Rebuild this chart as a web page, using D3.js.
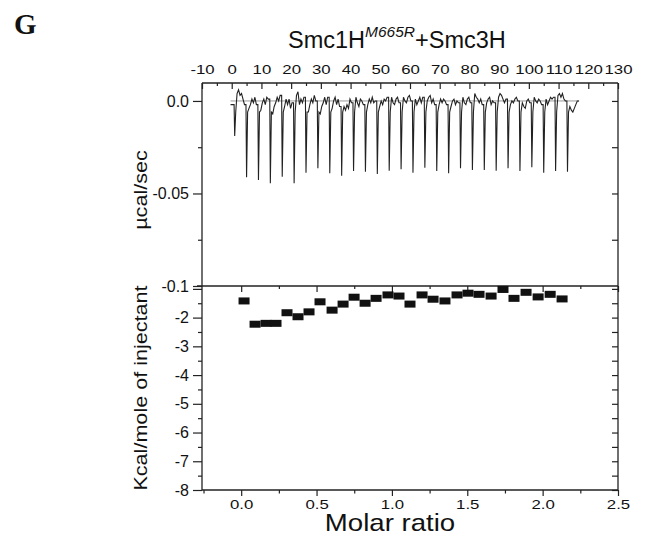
<!DOCTYPE html>
<html>
<head>
<meta charset="utf-8">
<script src="https://cdn.jsdelivr.net/npm/d3@7"></script>
<style>
  body { margin: 0; background: #fff; }
  svg { display: block; }
  .axis path { display: none; }
  .axis line { stroke: #222; stroke-width: 1.2; }
</style>
</head>
<body>
<svg id="chart" width="650" height="539"></svg>
<script>
// raw ITC trace: injection times (min) and peak heights (µcal/sec)
var injTime = [1, 5, 9, 13, 17, 21, 25, 29, 33, 37, 41, 45, 49, 53, 57, 61, 65, 69, 73, 77, 81, 85, 89, 93, 97, 101, 105, 109, 113]
var injPeak = [-0.0189, -0.0412, -0.0427, -0.0445, -0.0409, -0.0445, -0.0388, -0.0364, -0.0391, -0.0404,
               -0.0378, -0.0382, -0.0395, -0.0377, -0.0369, -0.0388, -0.0361, -0.0378, -0.0391, -0.0364,
               -0.0373, -0.0373, -0.0377, -0.0364, -0.0378, -0.0358, -0.0388, -0.0378, -0.0382]
// baseline readings between injections, every half minute from +0.8 min
var baseNoise = [
  [0.004, 0.006, 0.003, 0.004, 0.001, -0.002],
  [-0.004, -0.002, 0.001, -0.001, 0.002, -0.002],
  [-0.005, -0.001, 0.001, -0.002, 0.002, 0.001],
  [-0.007, -0.003, -0.001, 0.002, 0.000, 0.003],
  [-0.003, 0.001, -0.002, 0.001, -0.004, -0.001],
  [0.003, 0.005, -0.002, 0.001, -0.001, 0.002],
  [-0.006, -0.002, 0.001, -0.001, 0.003, 0.000],
  [-0.007, -0.003, -0.001, 0.002, -0.002, 0.002],
  [-0.004, 0.000, 0.002, -0.002, 0.001, -0.003],
  [-0.003, -0.005, -0.002, -0.004, 0.001, -0.001],
  [0.002, -0.001, -0.003, 0.001, 0.000, -0.002],
  [-0.002, 0.001, -0.001, 0.002, -0.001, 0.000],
  [-0.003, 0.000, -0.002, 0.001, 0.000, 0.002],
  [0.002, -0.001, -0.002, 0.001, 0.002, -0.001],
  [0.002, 0.000, -0.001, 0.002, 0.003, 0.000],
  [0.001, -0.002, 0.000, 0.002, -0.001, 0.002],
  [0.000, 0.002, 0.003, -0.001, 0.001, -0.002],
  [-0.002, 0.001, -0.001, 0.001, 0.000, -0.002],
  [-0.003, 0.000, 0.001, -0.002, 0.000, -0.001],
  [0.002, -0.001, -0.002, 0.001, 0.002, -0.001],
  [0.004, 0.002, 0.001, -0.001, 0.001, -0.002],
  [-0.001, 0.001, 0.002, -0.002, 0.000, -0.001],
  [0.002, 0.004, 0.003, 0.001, -0.001, 0.001],
  [-0.002, 0.000, -0.001, 0.001, 0.002, 0.000],
  [-0.001, -0.003, -0.004, 0.000, 0.001, -0.001],
  [0.002, 0.000, -0.001, 0.001, 0.000, -0.002],
  [0.001, -0.002, 0.000, 0.002, 0.001, 0.002],
  [0.003, 0.004, 0.002, 0.004, 0.001, 0.000],
  [-0.003, -0.005, -0.006, -0.004, -0.002, 0.000]
]
var traceStart = [-0.4, -0.002]
var traceEnd = [116.9, 0.000]

// integrated heats: molar ratio and kcal/mole of injectant
var molarRatio = [0.019, 0.092, 0.165, 0.231, 0.304, 0.377, 0.450, 0.523, 0.603, 0.676,
                  0.749, 0.822, 0.895, 0.974, 1.047, 1.120, 1.200, 1.273, 1.352, 1.432,
                  1.505, 1.578, 1.658, 1.737, 1.810, 1.890, 1.970, 2.050, 2.129]
var heat = [-1.42, -2.23, -2.20, -2.20, -1.83, -1.97, -1.80, -1.45, -1.74, -1.53,
            -1.29, -1.50, -1.33, -1.21, -1.25, -1.53, -1.21, -1.36, -1.42, -1.21,
            -1.15, -1.19, -1.25, -1.02, -1.33, -1.12, -1.28, -1.19, -1.35]

var timeTicks = [-10, 0, 10, 20, 30, 40, 50, 60, 70, 80, 90, 100, 110, 120, 130]
var ratioTicks = [0.0, 0.5, 1.0, 1.5, 2.0, 2.5]
var rateTicks = [0.0, -0.05, -0.1]
var heatTicks = [-1, -2, -3, -4, -5, -6, -7, -8]

var svg = d3.select('#chart')
var padL = 202, padR = 618, padT = 83, padM = 286, padB = 490

var timeScale = d3.scaleLinear().domain([-10, 130]).range([padL, padR])
var ratioScale = d3.scaleLinear().domain([-0.26, 2.5]).range([padL, padR])
var rateScale = d3.scaleLinear().domain([-0.1, 0.0097]).range([padM, padT])
var heatScale = d3.scaleLinear().domain([-8, -0.9]).range([padB, padM])

var sans = 'Liberation Sans, Arial, sans-serif'
function styleText(sel, size, k) {
  var t = sel.selectAll('text').attr('font-family', sans).attr('font-size', size).attr('fill', '#111')
  if (k) t.attr('transform', 'scale(' + k + ',1)')
}
function hyphen(f) {
  return d => f(d).replace('\u2212', '-')
}

// ---- top panel axes
var tAxis = svg.append('g').attr('class', 'axis').attr('transform', 'translate(0,' + padT + ')')
  .call(d3.axisTop(timeScale).tickValues(timeTicks).tickSizeInner(-6).tickSizeOuter(0).tickPadding(9).tickFormat(hyphen(d3.format('d'))))
styleText(tAxis, 12, 1.4)
svg.append('g').attr('class', 'axis').attr('transform', 'translate(0,' + padT + ')')
  .call(d3.axisTop(timeScale).tickValues(timeTicks.map(d => d + 5).filter(d => d < 130)).tickSizeInner(-3).tickSizeOuter(0).tickFormat(''))

var rAxis = svg.append('g').attr('class', 'axis').attr('transform', 'translate(' + padL + ',0)')
  .call(d3.axisLeft(rateScale).tickValues(rateTicks).tickSizeInner(9).tickSizeOuter(0).tickPadding(4)
    .tickFormat(d => d === 0 ? '0.0' : d === -0.1 ? '-0.1' : '-0.05'))
styleText(rAxis, 16)
svg.append('g').attr('class', 'axis').attr('transform', 'translate(' + padL + ',0)')
  .call(d3.axisLeft(rateScale).tickValues([-0.025, -0.075]).tickSizeInner(4).tickSizeOuter(0).tickFormat(''))
svg.append('g').attr('class', 'axis').attr('transform', 'translate(' + padR + ',0)')
  .call(d3.axisRight(rateScale).tickValues([0, -0.025, -0.05, -0.075]).tickSizeInner(-6).tickSizeOuter(0).tickFormat(''))

// ---- bottom panel axes
var xAxis = svg.append('g').attr('class', 'axis').attr('transform', 'translate(0,' + padB + ')')
  .call(d3.axisBottom(ratioScale).tickValues(ratioTicks).tickSizeInner(6).tickSizeOuter(0).tickPadding(4).tickFormat(d3.format('.1f')))
styleText(xAxis, 12, 1.4)
var ratioMinor = [-0.25, 0.25, 0.75, 1.25, 1.75, 2.25]
svg.append('g').attr('class', 'axis').attr('transform', 'translate(0,' + padB + ')')
  .call(d3.axisBottom(ratioScale).tickValues(ratioMinor).tickSizeInner(3.5).tickSizeOuter(0).tickFormat(''))
svg.append('g').attr('class', 'axis').attr('transform', 'translate(0,' + padM + ')')
  .call(d3.axisBottom(ratioScale).tickValues(ratioTicks).tickSizeInner(6).tickSizeOuter(0).tickFormat(''))
svg.append('g').attr('class', 'axis').attr('transform', 'translate(0,' + padM + ')')
  .call(d3.axisBottom(ratioScale).tickValues(ratioMinor.slice(1)).tickSizeInner(3).tickSizeOuter(0).tickFormat(''))

var hAxis = svg.append('g').attr('class', 'axis').attr('transform', 'translate(' + padL + ',0)')
  .call(d3.axisLeft(heatScale).tickValues(heatTicks).tickSizeInner(9).tickSizeOuter(0).tickPadding(4)
    .tickFormat(d => d === -1 ? '' : String(d)))
styleText(hAxis, 16)
var heatMinor = heatTicks.map(d => d - 0.5).filter(d => d > -8)
svg.append('g').attr('class', 'axis').attr('transform', 'translate(' + padL + ',0)')
  .call(d3.axisLeft(heatScale).tickValues(heatMinor).tickSizeInner(4).tickSizeOuter(0).tickFormat(''))
svg.append('g').attr('class', 'axis').attr('transform', 'translate(' + padR + ',0)')
  .call(d3.axisRight(heatScale).tickValues(heatTicks.concat(heatMinor)).tickSizeInner(-6).tickSizeOuter(0).tickFormat(''))

// ---- frame
var frame = svg.append('g').attr('stroke', '#222').attr('stroke-width', 1.3)
frame.append('line').attr('x1', padL).attr('x2', padL).attr('y1', padT).attr('y2', padB)
frame.append('line').attr('x1', padR).attr('x2', padR).attr('y1', padT).attr('y2', padB)
frame.append('line').attr('x1', padL).attr('x2', padR).attr('y1', padT).attr('y2', padT)
frame.append('line').attr('x1', padL - 5).attr('x2', padR).attr('y1', padM).attr('y2', padM)
frame.append('line').attr('x1', padL).attr('x2', padR).attr('y1', padB).attr('y2', padB)

// ---- raw trace
var tracePts = [traceStart]
injTime.forEach(function(t, i) {
  var prev = tracePts[tracePts.length - 1][1]
  tracePts.push([t - 0.2, prev])
  tracePts.push([t, injPeak[i]])
  tracePts.push([t + 0.35, -0.006])
  baseNoise[i].forEach(function(v, j) { tracePts.push([t + 0.8 + j * 0.5, v]) })
})
tracePts.push(traceEnd)

svg.append('line')
  .attr('x1', timeScale(traceStart[0])).attr('x2', timeScale(traceEnd[0]))
  .attr('y1', rateScale(0)).attr('y2', rateScale(0))
  .attr('stroke', '#999').attr('stroke-width', 1)

svg.append('path')
  .datum(tracePts)
  .attr('fill', 'none')
  .attr('stroke', '#222')
  .attr('stroke-width', 1.1)
  .attr('d', d3.line().x(d => timeScale(d[0])).y(d => rateScale(d[1])))

// ---- integrated heats
svg.append('g').selectAll('rect')
  .data(molarRatio)
  .enter()
  .append('rect')
  .attr('x', d => ratioScale(d) - 5.5)
  .attr('y', (d, i) => heatScale(heat[i]) - 3.5)
  .attr('width', 11)
  .attr('height', 7)
  .attr('fill', '#111')

// ---- labels
svg.append('text').attr('x', 14).attr('y', 34)
  .attr('font-family', 'Liberation Serif, Times New Roman, serif').attr('font-weight', 'bold')
  .attr('font-size', 29).attr('fill', '#111').text('G')

var title = svg.append('text').attr('x', 288).attr('y', 48)
  .attr('font-family', sans).attr('font-size', 23.5).attr('fill', '#111')
title.append('tspan').text('Smc1H')
title.append('tspan').attr('dy', -11).attr('font-size', 15.5).attr('font-style', 'italic').text('M665R')
title.append('tspan').attr('dy', 11).text('+Smc3H')

svg.append('text')
  .attr('transform', 'translate(390,531) scale(1.15,1)')
  .attr('text-anchor', 'middle')
  .attr('font-family', sans).attr('font-size', 24).attr('fill', '#111')
  .text('Molar ratio')

svg.append('text')
  .attr('transform', 'translate(147,190) rotate(-90) scale(1.2,1)')
  .attr('text-anchor', 'middle')
  .attr('font-family', sans).attr('font-size', 18).attr('fill', '#111')
  .text('µcal/sec')

svg.append('text')
  .attr('transform', 'translate(147,388) rotate(-90) scale(1.2,1)')
  .attr('text-anchor', 'middle')
  .attr('font-family', sans).attr('font-size', 18).attr('fill', '#111')
  .text('Kcal/mole of injectant')
</script>
</body>
</html>
